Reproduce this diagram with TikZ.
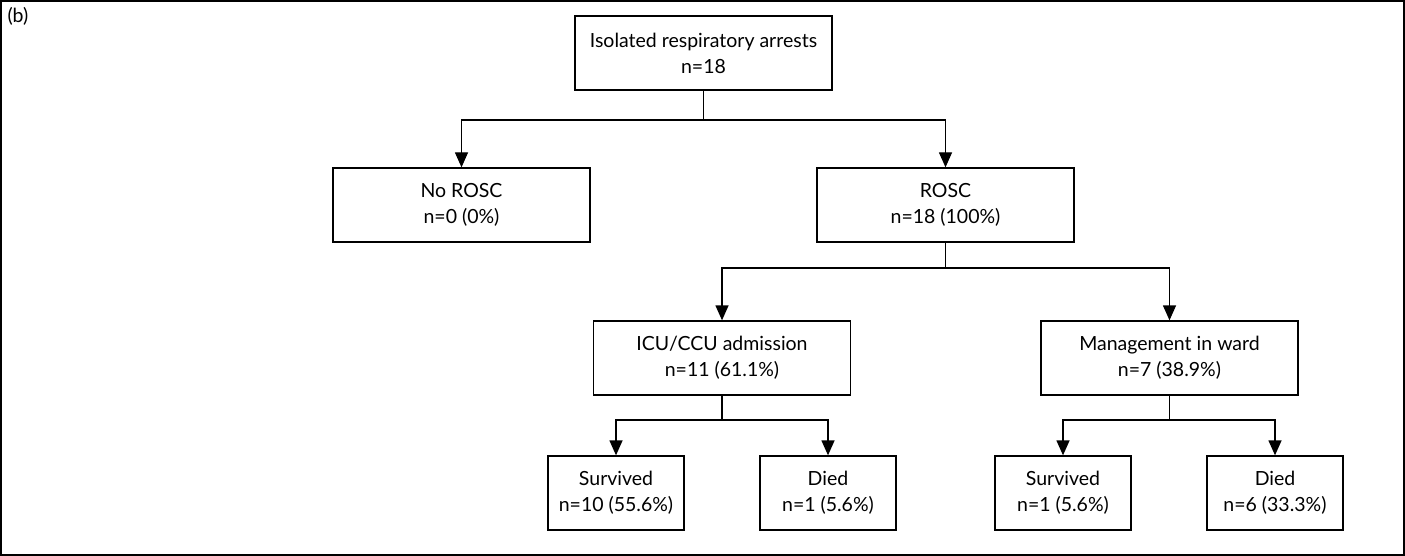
\documentclass[tikz,border=0pt]{standalone}
\usepackage{fontspec}
\setmainfont{Lato}
\usetikzlibrary{arrows.meta}
\begin{document}
\begin{tikzpicture}[x=1pt,y=-1pt,
  box/.style={draw,line width=1.3pt,minimum height=74pt,align=center,inner sep=0pt,
    font=\fontsize{19.5}{26}\selectfont},
  wide/.style={box,minimum width=257pt},
  narrow/.style={box,minimum width=136pt},
  link/.style={line width=1.3pt},
  arr/.style={link,-{Triangle[length=15pt,width=13pt]}}]
\useasboundingbox (0,0) rectangle (1405,556);
\draw[line width=1.5pt] (1,1) rectangle (1404,555);
\node[anchor=west,font=\fontsize{19.5}{22}\selectfont] (lbl) at (4,16) {(b)};
\node[wide] (top) at (703.5,53) {Isolated respiratory arrests\\n=18};
\node[wide] (norosc) at (461.5,205) {No ROSC\\n=0 (0\%)};
\node[wide] (rosc) at (945.5,205) {ROSC\\n=18 (100\%)};
\node[wide] (icu) at (722,358) {ICU/CCU admission\\n=11 (61.1\%)};
\node[wide] (ward) at (1169.5,358) {Management in ward\\n=7 (38.9\%)};
\node[narrow] (s1) at (616,493) {Survived\\n=10 (55.6\%)};
\node[narrow] (d1) at (828,493) {Died\\n=1 (5.6\%)};
\node[narrow] (s2) at (1063,493) {Survived\\n=1 (5.6\%)};
\node[narrow] (d2) at (1275,493) {Died\\n=6 (33.3\%)};
\coordinate (j1) at (703.5,120);
\coordinate (j2) at (945.5,268);
\coordinate (j3) at (722,420);
\coordinate (j4) at (1169.5,420);
\draw[link] (top.south) -- (j1);
\draw[arr] (j1) -| (norosc.north);
\draw[arr] (j1) -| (rosc.north);
\draw[link] (rosc.south) -- (j2);
\draw[arr] (j2) -| (icu.north);
\draw[arr] (j2) -| (ward.north);
\draw[link] (icu.south) -- (j3);
\draw[arr] (j3) -| (s1.north);
\draw[arr] (j3) -| (d1.north);
\draw[link] (ward.south) -- (j4);
\draw[arr] (j4) -| (s2.north);
\draw[arr] (j4) -| (d2.north);
\end{tikzpicture}
\end{document}
